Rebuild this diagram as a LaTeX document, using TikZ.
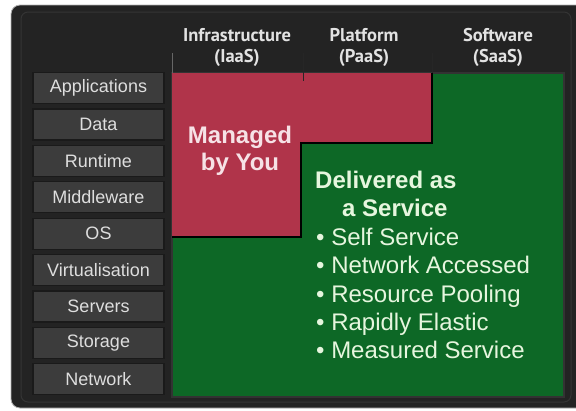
\documentclass[tikz,border=0pt]{standalone}
\usepackage{fontspec}
\setmainfont{Liberation Sans}
\newfontfamily\headfont{PT Sans}
\definecolor{bgdark}{HTML}{232323}
\definecolor{rimgray}{HTML}{343434}
\definecolor{boxgray}{HTML}{3C3C3C}
\definecolor{boxline}{HTML}{1A1A1A}
\definecolor{labeltext}{HTML}{DEDEDE}
\definecolor{headtext}{HTML}{E2E2E2}
\definecolor{mgred}{HTML}{B0344A}
\definecolor{svgreen}{HTML}{0D6826}
\definecolor{redtext}{HTML}{F6E2E6}
\definecolor{greentext}{HTML}{E6F6DE}
\tikzset{
  layerbox/.style={draw=boxline, line width=1.2pt, fill=boxgray, minimum width=131pt, minimum height=31pt, inner sep=0pt,
    text=labeltext, font=\fontsize{18}{20}\selectfont},
  headlabel/.style={text=headtext, font=\headfont\bfseries\fontsize{18.5}{21}\selectfont, align=center, inner sep=0pt},
  bigtext/.style={font=\bfseries\fontsize{24}{27}\selectfont, inner sep=0pt, anchor=base west},
  bullettext/.style={text=greentext, font=\fontsize{24}{27}\selectfont, inner sep=0pt, anchor=base west},
  sepline/.style={draw=black!85, line width=1pt}
}
\begin{document}
\begin{tikzpicture}[x=1pt,y=-1pt]
\useasboundingbox (0,0) rectangle (576,410);
\begin{scope}
\clip (0,0) rectangle (576,410);
\fill[bgdark, draw=gray!60, line width=0.8pt, rounded corners=9pt] (11,5) rectangle (590,408);
\draw[rimgray, line width=1pt, rounded corners=7pt] (21,12) rectangle (571,402);
\end{scope}
% column area
\fill[svgreen] (172,73) rectangle (564,397);
\draw[black!80, line width=1.2pt] (172,73) rectangle (564,397);
\fill[mgred] (172,73) -- (432,73) -- (432,143) -- (301,143) -- (301,237) -- (172,237) -- cycle;
\draw[black, line width=1.4pt] (432,73) -- (432,143) -- (301,143) -- (301,237) -- (172,237);
% column separators
\coordinate (s1a) at (172,53); \coordinate (s1b) at (172,73);
\coordinate (s2a) at (303,53); \coordinate (s2b) at (303,81);
\coordinate (s3a) at (432,53); \coordinate (s3b) at (432,73);
\draw[sepline, draw=black!60] (s1a) -- (s1b);
\draw[sepline] (s2a) -- (s2b);
\draw[sepline] (s3a) -- (s3b);
% headers
\node[headlabel] (iaas) at (237,47) {Infrastructure\\(IaaS)};
\node[headlabel] (paas) at (364,47) {Platform\\(PaaS)};
\node[headlabel] (saas) at (498,47) {Software\\(SaaS)};
% layer boxes
\node[layerbox] (app) at (98.5,88) {Applications};
\node[layerbox] (data) at (98.5,124.4) {Data};
\node[layerbox] (run) at (98.5,160.8) {Runtime};
\node[layerbox] (mid) at (98.5,197.2) {Middleware};
\node[layerbox] (os) at (98.5,233.6) {OS};
\node[layerbox] (virt) at (98.5,270) {Virtualisation};
\node[layerbox] (serv) at (98.5,306.4) {Servers};
\node[layerbox] (stor) at (98.5,342.8) {Storage};
\node[layerbox] (net) at (98.5,379.2) {Network};
% managed by you
\node[bigtext, text=redtext, anchor=base] (m1) at (240,143) {Managed};
\node[bigtext, text=redtext, anchor=base] (m2) at (240,170) {by You};
% delivered
\node[bigtext, text=greentext] (d1) at (315,188) {Delivered as};
\node[bigtext, text=greentext] (d2) at (342,216) {a Service};
\node[bullettext] (b1) at (316,245) {• Self Service};
\node[bullettext] (b2) at (316,273.5) {• Network Accessed};
\node[bullettext] (b3) at (316,302) {• Resource Pooling};
\node[bullettext] (b4) at (316,330) {• Rapidly Elastic};
\node[bullettext] (b5) at (316,358) {• Measured Service};
\end{tikzpicture}
\end{document}
